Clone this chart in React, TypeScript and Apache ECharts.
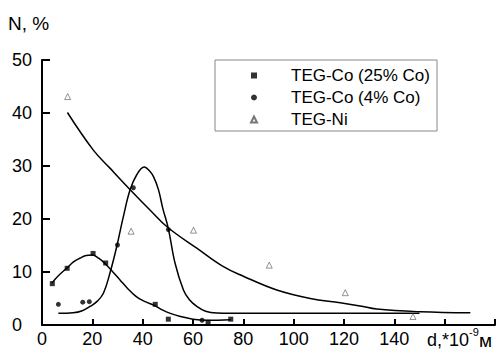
import React, { useEffect, useRef } from "react";
import * as echarts from "echarts";

const xTicks = [0, 20, 40, 60, 80, 100, 120, 140];
const seriesNames = ["TEG-Co (25% Co)", "TEG-Co (4% Co)", "TEG-Ni"];

const co25Points = [[4.1, 7.8], [10, 10.7], [20.3, 13.5], [25.3, 11.7], [45, 3.9], [50.2, 1.1], [66, 0.5], [75, 1.1]];
const co4Points = [[6.5, 3.9], [16.2, 4.3], [18.8, 4.4], [30, 15.1], [36.3, 25.9], [50.2, 18], [63.6, 0.9]];
const niPoints = [[10.2, 43.1], [35.4, 17.7], [60.2, 17.9], [90.3, 11.3], [120.5, 6.1], [147.4, 1.6]];

const co25Fit = [[3.9, 7.9], [6.5, 9.3], [9.8, 10.7], [12.5, 11.9], [15, 12.6], [17.5, 13.1], [20, 13.2], [22.5, 12.6], [25, 11.6], [28, 10.1], [31, 8.5], [34, 6.9], [37.6, 5.3], [41, 4.4], [45, 3.6], [48, 2.8], [51, 2.2], [55, 1.6], [60, 1.1], [65.5, 0.9], [75, 1.0]];
const co4Fit = [[6.5, 2.2], [12.4, 2.3], [16, 2.7], [19.1, 3.5], [22, 4.5], [24.4, 6], [27, 9.8], [29.7, 14.8], [32.3, 20.4], [35, 25.5], [37.6, 28.3], [40.6, 29.8], [42.5, 29.2], [44.3, 28], [46.3, 25.5], [48, 22], [50.2, 18.2], [52.9, 11.6], [56.2, 6.6], [58.5, 4.8], [61.5, 3.5], [65, 2.6], [69.5, 2.25], [75, 2.2], [150, 2.2]];
const niFit = [[10.1, 40.1], [20.4, 33], [27, 29.6], [35.7, 25.2], [42.9, 21.7], [50, 18.4], [61.5, 14.5], [72.1, 11], [80, 9.2], [93.3, 6.6], [106.6, 5.0], [118.5, 4.2], [126.4, 3.6], [133, 3.0], [150.3, 2.5], [170.2, 2.3]];

const FONT = "Liberation Sans, Arial, sans-serif";

export default function App() {
  const ref = useRef<HTMLDivElement>(null);
  useEffect(() => {
    if (!ref.current) return;
    const chart = echarts.init(ref.current, null, { renderer: "svg" });
    const fitLine = (name: string, data: number[][]) => ({
      name,
      type: "line",
      data,
      smooth: 0.4,
      symbol: "none",
      lineStyle: { color: "#000", width: 1.5 },
      z: 2,
      silent: true,
    });
    chart.setOption({
      animation: false,
      backgroundColor: "#fff",
      grid: { left: 42, right: 7, top: 60, bottom: 27, containLabel: false },
      xAxis: {
        type: "value",
        min: 0,
        max: 180,
        interval: 20,
        axisLine: { lineStyle: { color: "#000", width: 2 } },
        axisTick: { inside: true, length: 6, lineStyle: { color: "#000", width: 2 } },
        splitLine: { show: false },
        axisLabel: {
          color: "#000",
          fontSize: 18,
          fontFamily: FONT,
          margin: 5,
          formatter: (v: number) => (xTicks.includes(v) ? String(v) : ""),
        },
      },
      yAxis: {
        type: "value",
        min: 0,
        max: 50,
        interval: 10,
        axisLine: { show: true, lineStyle: { color: "#000", width: 2 } },
        axisTick: { show: true, inside: true, length: 8, lineStyle: { color: "#000", width: 2 } },
        splitLine: { show: false },
        axisLabel: { color: "#000", fontSize: 18, fontFamily: FONT, margin: 30, align: "left" },
      },
      legend: {
        data: seriesNames,
        orient: "vertical",
        left: 245,
        top: 62,
        itemWidth: 6,
        itemHeight: 6,
        itemGap: 5,
        textStyle: { color: "#000", fontSize: 17, fontFamily: FONT, padding: [0, 0, 0, 29] },
        selectedMode: false,
      },
      graphic: [
        {
          type: "rect",
          shape: { x: 215, y: 60, width: 222, height: 71 },
          style: { fill: "none", stroke: "#888", lineWidth: 1 },
          z: 0,
        },
        {
          type: "text",
          left: 8,
          top: 14,
          style: { text: "N, %", fill: "#000", fontSize: 19, fontFamily: FONT },
        },
        {
          type: "text",
          left: 427,
          top: 331,
          style: { text: "d,*10", fill: "#000", fontSize: 18, fontFamily: FONT },
        },
        {
          type: "text",
          left: 469,
          top: 326,
          style: { text: "-9", fill: "#000", fontSize: 11, fontFamily: FONT },
        },
        {
          type: "text",
          left: 479,
          top: 331,
          style: { text: "м", fill: "#000", fontSize: 19, fontFamily: FONT },
        },
      ],
      series: [
        fitLine("fit25", co25Fit),
        fitLine("fit4", co4Fit),
        fitLine("fitNi", niFit),
        {
          name: seriesNames[0],
          type: "scatter",
          data: co25Points,
          symbol: "rect",
          symbolSize: 5,
          itemStyle: { color: "#000" },
          z: 3,
        },
        {
          name: seriesNames[1],
          type: "scatter",
          data: co4Points,
          symbol: "circle",
          symbolSize: 5,
          itemStyle: { color: "#000" },
          z: 3,
        },
        {
          name: seriesNames[2],
          type: "scatter",
          data: niPoints,
          symbol: "triangle",
          symbolSize: 6,
          itemStyle: { color: "#fff", borderColor: "#555", borderWidth: 0.8 },
          z: 3,
        },
      ],
    });
    return () => chart.dispose();
  }, []);
  return <div ref={ref} style={{ width: 502, height: 352, position: "absolute", left: 0, top: 0 }} />;
}
